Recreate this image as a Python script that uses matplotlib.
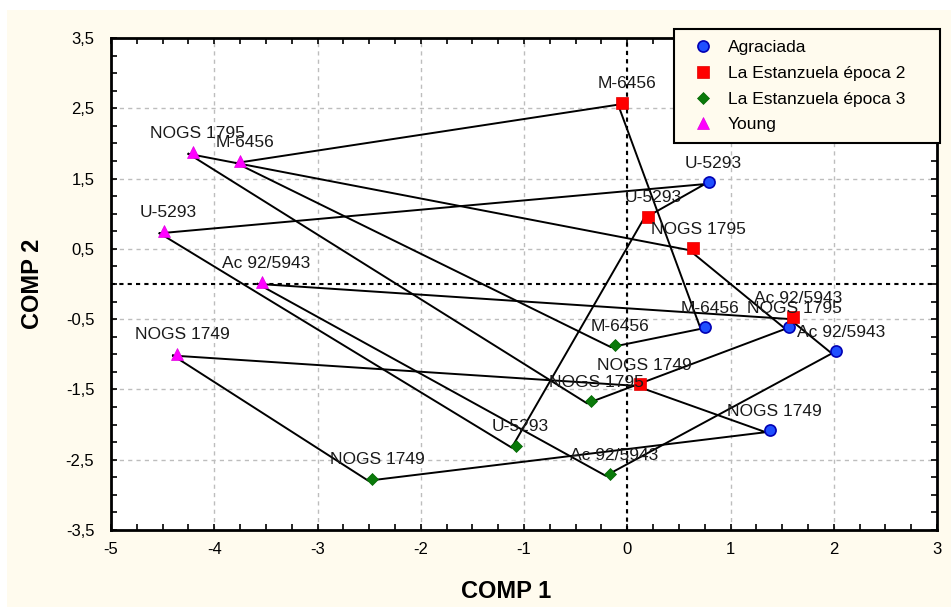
import matplotlib
matplotlib.use("Agg")
import matplotlib.pyplot as plt
from matplotlib.patches import Rectangle
from matplotlib.ticker import MultipleLocator
from matplotlib.transforms import offset_copy

plt.rcParams['font.family'] = ['Liberation Sans', 'DejaVu Sans']

# Data: scores on the first two components, one array per group.
cultivars = ["U-5293", "M-6456", "NOGS 1795", "Ac 92/5943", "NOGS 1749"]

agraciada_x = [0.79, 0.75, 1.57, 2.02, 1.38]
agraciada_y = [1.45, -0.61, -0.61, -0.96, -2.08]

ep2_x = [0.20, -0.05, 0.64, 1.61, 0.12]
ep2_y = [0.96, 2.58, 0.51, -0.47, -1.42]

ep3_x = [-1.08, -0.12, -0.35, -0.17, -2.47]
ep3_y = [-2.30, -0.87, -1.67, -2.70, -2.77]

young_x = [-4.49, -3.75, -4.21, -3.54, -4.36]
young_y = [0.75, 1.75, 1.88, 0.03, -0.99]

group_names = ["Agraciada", "La Estanzuela época 2", "La Estanzuela época 3", "Young"]

# order in which each cultivar's polygon visits the groups
path_order = {
    "U-5293": ["Young", "Agraciada", "La Estanzuela época 2", "La Estanzuela época 3", "Young"],
    "M-6456": ["Young", "La Estanzuela época 2", "Agraciada", "La Estanzuela época 3", "Young"],
    "NOGS 1795": ["Young", "La Estanzuela época 2", "Agraciada", "La Estanzuela época 3", "Young"],
    "Ac 92/5943": ["Young", "La Estanzuela época 2", "Agraciada", "La Estanzuela época 3", "Young"],
    "NOGS 1749": ["Young", "La Estanzuela época 2", "Agraciada", "La Estanzuela época 3", "Young"],
}

x_ticks = [-5, -4, -3, -2, -1, 0, 1, 2, 3]
y_ticks = [3.5, 2.5, 1.5, 0.5, -0.5, -1.5, -2.5, -3.5]

groups = {
    "Agraciada": (agraciada_x, agraciada_y),
    "La Estanzuela época 2": (ep2_x, ep2_y),
    "La Estanzuela época 3": (ep3_x, ep3_y),
    "Young": (young_x, young_y),
}
styles = {
    "Agraciada": dict(marker='o', markersize=8, markerfacecolor='#1F4FFF', markeredgecolor='#0000B4', markeredgewidth=1.2),
    "La Estanzuela época 2": dict(marker='s', markersize=8.5, markerfacecolor='#FF0000', markeredgecolor='#E00000', markeredgewidth=0.5),
    "La Estanzuela época 3": dict(marker='D', markersize=6, markerfacecolor='#0A7A0A', markeredgecolor='#006400', markeredgewidth=0.5),
    "Young": dict(marker='^', markersize=8, markerfacecolor='#FF00FF', markeredgecolor='#E000E0', markeredgewidth=0.5),
}

fig = plt.figure(figsize=(9.51, 6.07), dpi=100, facecolor='white')
fig.patches.append(Rectangle((7 / 951, 0), 1, 1 - 10 / 607, transform=fig.transFigure,
                             facecolor='#FFFBEE', edgecolor='none', zorder=-10))

ax = fig.add_axes([111 / 951, 1 - 530 / 607, 826 / 951, 492 / 607])
ax.set_facecolor('white')
ax.set_xlim(-5, 3)
ax.set_ylim(-3.5, 3.5)

# grid + zero lines
ax.set_axisbelow(True)
ax.grid(True, which='major', color='#BDBDBD', linestyle=(0, (3, 3)), linewidth=1)
ax.axhline(0, color='black', linestyle=(0, (2, 2)), linewidth=1.5, zorder=1)
ax.axvline(0, color='black', linestyle=(0, (2, 2)), linewidth=1.5, zorder=1)

# connecting lines, drawn a few pixels off the markers as in the original
line_tr = offset_copy(ax.transData, fig=fig, x=-4, y=-2, units='dots')
for i, cv in enumerate(cultivars):
    px = [groups[g][0][i] for g in path_order[cv]]
    py = [groups[g][1][i] for g in path_order[cv]]
    ax.plot(px, py, color='black', linewidth=1.4, transform=line_tr, zorder=2)

for g in group_names:
    gx, gy = groups[g]
    ax.plot(gx, gy, linestyle='none', label=g, zorder=3, **styles[g])
    for i, cv in enumerate(cultivars):
        ax.annotate(cv, (gx[i], gy[i]), xytext=(3.5, 13.5), textcoords='offset points',
                    ha='center', va='center', fontsize=12.5, color='#1A1A1A', zorder=4)

ax.set_xticks(x_ticks)
ax.set_xticklabels([str(v) for v in x_ticks])
ax.set_yticks(y_ticks)
ax.set_yticklabels([f"{v:.1f}".replace('.', ',') for v in y_ticks])
ax.xaxis.set_minor_locator(MultipleLocator(0.25))
ax.yaxis.set_minor_locator(MultipleLocator(0.25))
ax.tick_params(which='both', direction='in', top=True, right=True, length=4, width=1.2, color='black')
ax.tick_params(axis='x', which='major', labelsize=12, pad=9)
ax.tick_params(axis='y', which='major', labelsize=12, pad=12)
for s in ax.spines.values():
    s.set_linewidth(2)
    s.set_color('black')

ax.set_xlabel("COMP 1", fontsize=17, fontweight='bold')
ax.set_ylabel("COMP 2", fontsize=17, fontweight='bold')
ax.xaxis.set_label_coords((506 - 111) / 826, -(591 - 530) / 492)
ax.yaxis.set_label_coords(-(111 - 33) / 826, (530 - 284) / 492)
ax.xaxis.label.set_va('center')
ax.yaxis.label.set_va('center')

# legend box spans roughly x 674..940, y 29..142 px in the original
leg = ax.legend(loc='upper left',
                bbox_to_anchor=(674 / 951, 1 - 142 / 607, 266 / 951, 113 / 607),
                bbox_transform=fig.transFigure, mode='expand', borderaxespad=0,
                fontsize=12.5, frameon=True, fancybox=False, framealpha=1,
                facecolor='#FFFBEE', edgecolor='black', handletextpad=0.45,
                labelspacing=0.6, borderpad=0.65, handlelength=2.0)
leg.get_frame().set_linewidth(1.5)
leg.set_zorder(10)

fig.savefig("out.png", dpi=100)
